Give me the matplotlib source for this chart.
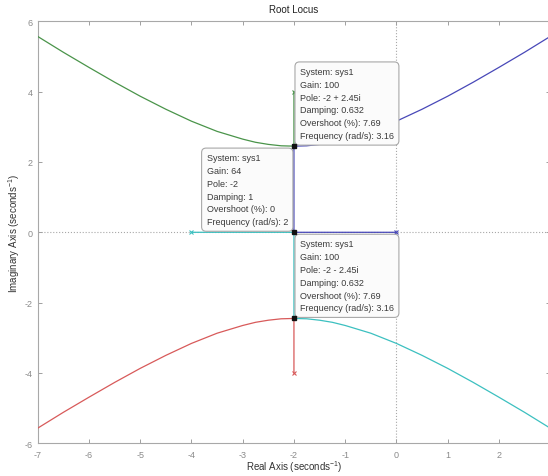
import matplotlib
matplotlib.use('Agg')
import matplotlib.pyplot as plt

plt.rcParams['font.family'] = ['Liberation Sans', 'DejaVu Sans']
plt.rcParams['axes.unicode_minus'] = False
plt.rcParams['mathtext.fontset'] = 'custom'
plt.rcParams['mathtext.rm'] = 'Liberation Sans'
plt.rcParams['mathtext.it'] = 'Liberation Sans:italic'
plt.rcParams['mathtext.bf'] = 'Liberation Sans:bold'

# ---- root locus branches ----
green_x = [-2, -2, -2.25, -2.5, -2.75, -3, -3.5, -4, -4.5, -5, -5.5, -6, -6.5, -7]
green_y = [4.0, 2.45, 2.46, 2.50, 2.56, 2.65, 2.87, 3.16, 3.50, 3.87, 4.27, 4.69, 5.12, 5.57]

blue_x = [0, -2, -2, -1.75, -1.5, -1.25, -1, -0.5, 0, 0.5, 1, 1.5, 2, 2.5, 3]
blue_y = [0, 0, 2.45, 2.46, 2.50, 2.56, 2.65, 2.87, 3.16, 3.50, 3.87, 4.27, 4.69, 5.12, 5.57]

cyan_x = [-4, -2, -2, -1.75, -1.5, -1.25, -1, -0.5, 0, 0.5, 1, 1.5, 2, 2.5, 3]
cyan_y = [0, 0, -2.45, -2.46, -2.50, -2.56, -2.65, -2.87, -3.16, -3.50, -3.87, -4.27, -4.69, -5.12, -5.57]

red_x = [-2, -2, -2.25, -2.5, -2.75, -3, -3.5, -4, -4.5, -5, -5.5, -6, -6.5, -7]
red_y = [-4.0, -2.45, -2.46, -2.50, -2.56, -2.65, -2.87, -3.16, -3.50, -3.87, -4.27, -4.69, -5.12, -5.57]

# open-loop poles
pole_x = [-2, 0, -4, -2]
pole_y = [4, 0, 0, -4]

# data tips
tip_x = [-2, -2, -2]
tip_y = [2.45, 0, -2.45]
tip_gain = ['100', '64', '100']
tip_pole = ['-2 + 2.45i', '-2', '-2 - 2.45i']
tip_damping = ['0.632', '1', '0.632']
tip_overshoot = ['7.69', '0', '7.69']
tip_freq = ['3.16', '2', '3.16']

x_ticks = [-7, -6, -5, -4, -3, -2, -1, 0, 1, 2, 3]
x_ticklabels = ['-7', '-6', '-5', '-4', '-3', '-2', '-1', '0', '1', '2', '']
y_ticks = [-6, -4, -2, 0, 2, 4, 6]

# ---- figure ----
fig = plt.figure(figsize=(5.48, 4.77), dpi=100)
ax = fig.add_axes([0.0688, 0.0686, 0.9352, 0.8846])

branch_colors = ['#4a944a', '#4848b8', '#3cc0c0', '#d85a5a']
branches = [(green_x, green_y), (blue_x, blue_y), (cyan_x, cyan_y), (red_x, red_y)]
for (bx, by), c in zip(branches, branch_colors):
    ax.plot(bx, by, color=c, lw=0.9, zorder=3)

pole_colors = ['#4a944a', '#4848b8', '#3cc0c0', '#d85a5a']
for px, py, c in zip(pole_x, pole_y, pole_colors):
    ax.plot(px, py, marker='x', ms=3.5, mew=0.8, color=c, ls='none', zorder=4)

ax.axhline(0, color='#a8a8a8', lw=0.8, ls=':', zorder=1)
ax.axvline(0, color='#a8a8a8', lw=0.8, ls=':', zorder=1)

ax.set_xlim(-7, 3)
ax.set_ylim(-6, 6)
ax.set_xticks(x_ticks)
ax.set_xticklabels(x_ticklabels)
ax.set_yticks(y_ticks)
ax.tick_params(direction='in', top=True, right=True, length=3, width=0.7,
               color='#a0a0a0', labelcolor='#8a8a8a', labelsize=6.5)
ax.tick_params(axis='y', pad=3.5)
ax.tick_params(axis='x', pad=5)
for s in ax.spines.values():
    s.set_color('#a8a8a8')
    s.set_linewidth(0.8)

# data tips
placements = [('left', (6, 6)), ('right', (-6, 6)), ('left', (6, 6))]
for i in range(len(tip_x)):
    ax.plot(tip_x[i], tip_y[i], marker='s', ms=2.5, color='#111111', ls='none', zorder=6)
    txt = '\n'.join([
        'System: sys1',
        'Gain: ' + tip_gain[i],
        'Pole: ' + tip_pole[i],
        'Damping: ' + tip_damping[i],
        'Overshoot (%): ' + tip_overshoot[i],
        'Frequency (rad/s): ' + tip_freq[i],
    ])
    ha, off = placements[i]
    ax.annotate(txt, xy=(tip_x[i], tip_y[i]), xycoords='data',
                xytext=off, textcoords='offset pixels', ha=ha, va='bottom',
                multialignment='left',
                fontsize=6.5, color='#3a3a3a', linespacing=1.55, zorder=5,
                bbox=dict(boxstyle='round,pad=0.55,rounding_size=0.5',
                          fc='#fbfbfb', ec='#a8a8a8', lw=0.8))

fig.text(294 / 548, 1 - 10 / 477, 'Root Locus', ha='center', va='center',
         fontsize=7, color='#222222')
fig.text(294 / 548, 1 - 467 / 477, r'Real Axis (seconds$^{-1}$)', ha='center',
         va='center', fontsize=7, color='#333333')
fig.text(14 / 548, 1 - 233 / 477, r'Imaginary Axis (seconds$^{-1}$)', ha='center',
         va='center', rotation=90, fontsize=7, color='#333333')

fig.savefig('out.png', dpi=100, facecolor='white')
